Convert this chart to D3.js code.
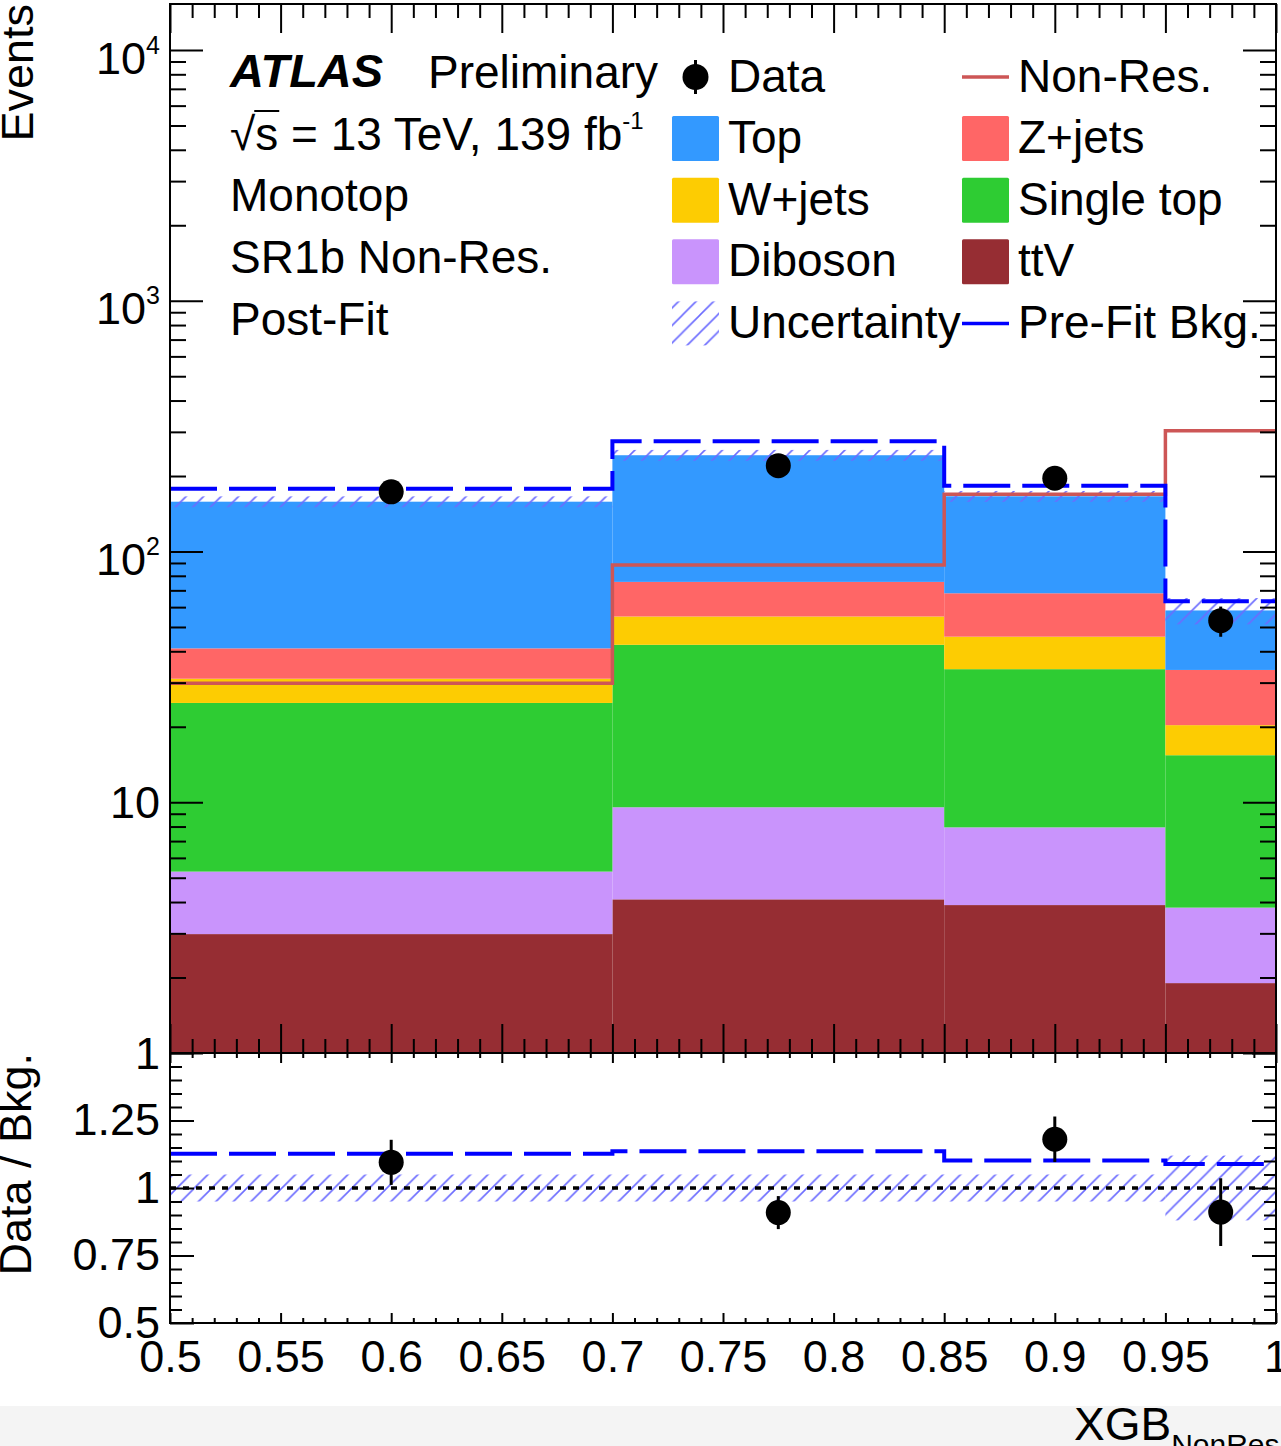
<!DOCTYPE html>
<html>
<head>
<meta charset="utf-8">
<script src="https://cdn.jsdelivr.net/npm/d3@7"></script>
<style>
  html, body { margin: 0; padding: 0; background: #fff; }
  svg { display: block; font-family: "Liberation Sans", Arial, Helvetica, sans-serif; }
</style>
</head>
<body>
<svg id="chart" width="1281" height="1446"></svg>
<script>
// ---- Binning of XGB_NonRes ----
const binEdges = [0.5, 0.7, 0.85, 0.95, 1.0];
const binCenters = [0.6, 0.775, 0.9, 0.975];

// ---- Post-fit background yields per bin (stack order: bottom to top) ----
const ttV       = [2.98, 4.10, 3.89, 1.90];
const diboson   = [2.31, 5.45, 4.05, 1.90];
const singleTop = [19.6, 32.9, 26.0, 11.6];
const wJets     = [6.2, 12.6, 11.8, 4.9];
const zJets     = [10.0, 20.6, 22.4, 13.4];
const topBkg    = [116.9, 166.4, 97.9, 24.5];

// ---- Other histograms ----
const preFitBkg  = [178, 275, 183, 63.4];
const signalNonRes = [29.8, 88.3, 169, 303];
const dataCounts = [173, 220, 196, 53];
const dataErrors = [13.2, 14.8, 14.0, 7.3];
const bkgUncertaintyRel = [0.05, 0.05, 0.05, 0.12];

// ---- Axis tick labels ----
const xTickLabels = ["0.5", "0.55", "0.6", "0.65", "0.7", "0.75", "0.8", "0.85", "0.9", "0.95", "1"];
const yMainDecades = [1, 10, 100, 1000, 10000];
const yMainLabels = ["1", "10", "10^2", "10^3", "10^4"];
const yRatioTicks = [0.5, 0.75, 1, 1.25];
const yRatioLabels = ["0.5", "0.75", "1", "1.25"];

const processKeys = ["ttV", "Diboson", "Single top", "W+jets", "Z+jets", "Top"];
const processSeries = [ttV, diboson, singleTop, wJets, zJets, topBkg];

// ---- Styles ----
const colors = {
  "Top": "#3399ff",
  "Z+jets": "#ff6666",
  "W+jets": "#fdcc02",
  "Single top": "#2ecc33",
  "Diboson": "#c994fc",
  "ttV": "#962d33",
  signal: "#cd5656",
  prefit: "#0000ff",
  hatch: "#6b6bff"
};
const FONT = 45;       // tick labels and axis titles
const TXT = 46;        // legend and info text

// ---- Layout ----
const L = 170, R = 1276, T = 4, MB = 1053, RB = 1323;

const svg = d3.select("#chart");

// light strip at the bottom edge
svg.append("rect").attr("x", 0).attr("y", 1406).attr("width", 1281).attr("height", 40).attr("fill", "#f4f4f4");

const defs = svg.append("defs");
const hp = defs.append("pattern")
  .attr("id", "hatch").attr("patternUnits", "userSpaceOnUse")
  .attr("width", 17.5).attr("height", 17.5);
hp.append("path")
  .attr("d", "M0,17.5 L17.5,0 M-2,2 L2,-2 M15.5,19.5 L19.5,15.5")
  .attr("stroke", colors.hatch).attr("stroke-width", 1.6);

defs.append("clipPath").attr("id", "clipMain")
  .append("rect").attr("x", L).attr("y", T).attr("width", R - L).attr("height", MB - T);
defs.append("clipPath").attr("id", "clipRatio")
  .append("rect").attr("x", L).attr("y", MB).attr("width", R - L).attr("height", RB - MB);

// ---- Scales ----
const x = d3.scaleLinear().domain([0.5, 1.0]).range([L, R]);
const yTopValue = Math.pow(10, 4 + 46 / 250.75);
const y = d3.scaleLog().domain([1, yTopValue]).range([MB, T]);
const yr = d3.scaleLinear().domain([0.5, 1.5]).range([RB, MB]);

// ---- Stacked backgrounds ----
const table = binCenters.map((c, i) => {
  const row = { bin: i };
  processKeys.forEach((k, j) => { row[k] = processSeries[j][i]; });
  return row;
});
const stacked = d3.stack().keys(processKeys)(table);
const totals = table.map(r => d3.sum(processKeys, k => r[k]));

const gMain = svg.append("g").attr("clip-path", "url(#clipMain)");
stacked.forEach(layer => {
  gMain.append("g").selectAll("rect").data(layer).join("rect")
    .attr("x", (d, i) => x(binEdges[i]))
    .attr("width", (d, i) => x(binEdges[i + 1]) - x(binEdges[i]))
    .attr("y", d => y(d[1]))
    .attr("height", d => y(Math.max(d[0], 1)) - y(d[1]))
    .attr("fill", colors[layer.key]);
});

// uncertainty band on the total
gMain.append("g").selectAll("rect").data(totals).join("rect")
  .attr("x", (d, i) => x(binEdges[i]))
  .attr("width", (d, i) => x(binEdges[i + 1]) - x(binEdges[i]))
  .attr("y", (d, i) => y(d * (1 + bkgUncertaintyRel[i])))
  .attr("height", (d, i) => y(d * (1 - bkgUncertaintyRel[i])) - y(d * (1 + bkgUncertaintyRel[i])))
  .attr("fill", "url(#hatch)");

// step outline helper
function stepPoints(vals, ys) {
  const pts = [];
  vals.forEach((v, i) => {
    pts.push([x(binEdges[i]), ys(v)]);
    pts.push([x(binEdges[i + 1]), ys(v)]);
  });
  return pts;
}
const line = d3.line();

// signal
gMain.append("path").attr("d", line(stepPoints(signalNonRes, y)))
  .attr("fill", "none").attr("stroke", colors.signal).attr("stroke-width", 3.5);
// pre-fit background
gMain.append("path").attr("d", line(stepPoints(preFitBkg, y)))
  .attr("fill", "none").attr("stroke", colors.prefit).attr("stroke-width", 4)
  .attr("stroke-dasharray", "47 12");

// data
const gData = gMain.append("g");
dataCounts.forEach((v, i) => {
  gData.append("line")
    .attr("x1", x(binCenters[i])).attr("x2", x(binCenters[i]))
    .attr("y1", y(v + dataErrors[i])).attr("y2", y(v - dataErrors[i]))
    .attr("stroke", "#000").attr("stroke-width", 3);
  gData.append("circle").attr("cx", x(binCenters[i])).attr("cy", y(v)).attr("r", 12.5).attr("fill", "#000");
});

// ---- Ratio panel ----
const gRatio = svg.append("g").attr("clip-path", "url(#clipRatio)");
gRatio.append("g").selectAll("rect").data(bkgUncertaintyRel).join("rect")
  .attr("x", (d, i) => x(binEdges[i]))
  .attr("width", (d, i) => x(binEdges[i + 1]) - x(binEdges[i]))
  .attr("y", d => yr(1 + d))
  .attr("height", d => yr(1 - d) - yr(1 + d))
  .attr("fill", "url(#hatch)");
gRatio.append("line").attr("x1", L).attr("x2", R).attr("y1", yr(1)).attr("y2", yr(1))
  .attr("stroke", "#000").attr("stroke-width", 3.5).attr("stroke-dasharray", "6 7");
const preFitRatio = preFitBkg.map((v, i) => v / totals[i]);
gRatio.append("path").attr("d", line(stepPoints(preFitRatio, yr)))
  .attr("fill", "none").attr("stroke", colors.prefit).attr("stroke-width", 4)
  .attr("stroke-dasharray", "47 12");
dataCounts.forEach((v, i) => {
  const r = v / totals[i], e = dataErrors[i] / totals[i];
  gRatio.append("line")
    .attr("x1", x(binCenters[i])).attr("x2", x(binCenters[i]))
    .attr("y1", yr(r + e)).attr("y2", yr(r - e))
    .attr("stroke", "#000").attr("stroke-width", 3);
  gRatio.append("circle").attr("cx", x(binCenters[i])).attr("cy", yr(r)).attr("r", 12.5).attr("fill", "#000");
});

// ---- Axes ----
const xMajor = d3.range(0, 11).map(i => 0.5 + i * 0.05);
const xMinor = d3.range(0, 51).map(i => 0.5 + i * 0.01).filter((v, i) => i % 5 !== 0);
const yMinor = [];
[1, 10, 100, 1000, 10000].forEach(d => { for (let k = 2; k <= 9; k++) if (d * k <= yTopValue) yMinor.push(d * k); });
const yrMinor = d3.range(0, 21).map(i => 0.5 + i * 0.05).filter((v, i) => i % 5 !== 0);

function styleAxis(g) {
  g.select(".domain").remove();
  g.selectAll(".tick line").attr("stroke", "#000").attr("stroke-width", 2);
  g.selectAll("text").attr("font-size", FONT).attr("fill", "#000")
    .attr("font-family", "'Liberation Sans', Arial, Helvetica, sans-serif");
}
function addAxis(axis, tx, ty) {
  const g = svg.append("g").attr("transform", `translate(${tx},${ty})`).call(axis);
  styleAxis(g);
  return g;
}

// main panel x ticks (bottom edge, top edge)
addAxis(d3.axisTop(x).tickValues(xMajor).tickSize(29).tickFormat(""), 0, MB);
addAxis(d3.axisTop(x).tickValues(xMinor).tickSize(14).tickFormat(""), 0, MB);
addAxis(d3.axisBottom(x).tickValues(xMajor).tickSize(29).tickFormat(""), 0, T);
addAxis(d3.axisBottom(x).tickValues(xMinor).tickSize(14).tickFormat(""), 0, T);

// main panel y ticks
const yLab = addAxis(d3.axisLeft(y).tickValues(yMainDecades).tickSizeInner(-33).tickSizeOuter(0)
  .tickPadding(10).tickFormat((d, i) => yMainLabels[i]), L, 0);
yLab.selectAll(".tick text").each(function (d, i) {
  const lab = yMainLabels[i];
  const t = d3.select(this);
  if (lab.includes("^")) {
    const [base, exp] = lab.split("^");
    t.text(null).attr("dy", null).attr("y", 23);
    t.append("tspan").text(base);
    t.append("tspan").text(exp).attr("font-size", 25).attr("dy", -20);
  } else {
    t.attr("dy", "0.34em");
  }
});
addAxis(d3.axisLeft(y).tickValues(yMinor).tickSizeInner(-16).tickSizeOuter(0).tickFormat(""), L, 0);
addAxis(d3.axisLeft(y).tickValues(yMainDecades).tickSize(33).tickFormat(""), R, 0);
addAxis(d3.axisLeft(y).tickValues(yMinor).tickSize(16).tickFormat(""), R, 0);

// ratio panel ticks
addAxis(d3.axisBottom(x).tickValues(xMajor).tickSizeInner(-10).tickSizeOuter(0).tickPadding(17)
  .tickFormat((d, i) => xTickLabels[i]), 0, RB);
addAxis(d3.axisTop(x).tickValues(xMinor).tickSize(5).tickFormat(""), 0, RB);
addAxis(d3.axisBottom(x).tickValues(xMajor).tickSize(10).tickFormat(""), 0, MB);
addAxis(d3.axisBottom(x).tickValues(xMinor).tickSize(5).tickFormat(""), 0, MB);
addAxis(d3.axisLeft(yr).tickValues(yRatioTicks).tickSizeInner(-24).tickSizeOuter(0).tickPadding(10)
  .tickFormat((d, i) => yRatioLabels[i]), L, 0);
addAxis(d3.axisLeft(yr).tickValues([1.5]).tickSizeInner(-24).tickSizeOuter(0).tickFormat(""), L, 0);
addAxis(d3.axisLeft(yr).tickValues(yrMinor).tickSizeInner(-12).tickSizeOuter(0).tickFormat(""), L, 0);
addAxis(d3.axisLeft(yr).tickValues(yRatioTicks.concat([1.5])).tickSize(24).tickFormat(""), R, 0);
addAxis(d3.axisLeft(yr).tickValues(yrMinor).tickSize(12).tickFormat(""), R, 0);

// frames
svg.append("rect").attr("x", L).attr("y", T).attr("width", R - L).attr("height", MB - T)
  .attr("fill", "none").attr("stroke", "#000").attr("stroke-width", 2);
svg.append("rect").attr("x", L).attr("y", MB).attr("width", R - L).attr("height", RB - MB)
  .attr("fill", "none").attr("stroke", "#000").attr("stroke-width", 2);

// axis titles
svg.append("text").attr("transform", `translate(33,${T}) rotate(-90)`)
  .attr("text-anchor", "end").attr("font-size", FONT).text("Events");
svg.append("text").attr("transform", `translate(31,${MB}) rotate(-90)`)
  .attr("text-anchor", "end").attr("font-size", FONT).text("Data / Bkg.");
const xt = svg.append("text").attr("x", 1074).attr("y", 1440).attr("font-size", 46);
xt.append("tspan").text("XGB");
xt.append("tspan").text("NonRes").attr("font-size", 30).attr("dy", 15);

// ---- Labels ----
svg.append("text").attr("x", 230).attr("y", 87).attr("font-size", TXT + 1)
  .attr("font-weight", "bold").attr("font-style", "italic").text("ATLAS");
svg.append("text").attr("x", 428).attr("y", 88).attr("font-size", TXT).text("Preliminary");
const lumi = svg.append("text").attr("x", 230).attr("y", 149.5).attr("font-size", TXT);
lumi.append("tspan").text("\u221A");
lumi.append("tspan").text("s = 13 TeV, 139 fb");
lumi.append("tspan").text("-1").attr("font-size", 24).attr("dy", -21);
{
  const n = lumi.node();
  const x0 = n.getStartPositionOfChar(1).x, x1 = n.getEndPositionOfChar(1).x;
  svg.append("line").attr("x1", x0 - 1).attr("x2", x1 + 1).attr("y1", 111).attr("y2", 111)
    .attr("stroke", "#000").attr("stroke-width", 2);
}
const infoLines = ["Monotop", "SR1b Non-Res.", "Post-Fit"];
infoLines.forEach((s, i) => {
  svg.append("text").attr("x", 230).attr("y", 211 + i * 62).attr("font-size", TXT).text(s);
});

// ---- Legend ----
const legendCol1 = [
  { label: "Data", kind: "data" },
  { label: "Top", kind: "box" },
  { label: "W+jets", kind: "box" },
  { label: "Diboson", kind: "box" },
  { label: "Uncertainty", kind: "hatch" }
];
const legendCol2 = [
  { label: "Non-Res.", kind: "line", color: colors.signal },
  { label: "Z+jets", kind: "box" },
  { label: "Single top", kind: "box" },
  { label: "ttV", kind: "box" },
  { label: "Pre-Fit Bkg.", kind: "line", color: colors.prefit }
];
function drawLegend(entries, x0) {
  entries.forEach((e, i) => {
    const cy = 77 + i * 61.6;
    const g = svg.append("g");
    if (e.kind === "box") {
      g.append("rect").attr("x", x0).attr("y", cy - 22.5).attr("width", 47).attr("height", 45)
        .attr("rx", 1.5).attr("fill", colors[e.label]);
    } else if (e.kind === "hatch") {
      g.append("rect").attr("x", x0).attr("y", cy - 22).attr("width", 47).attr("height", 44)
        .attr("fill", "url(#hatch)");
    } else if (e.kind === "line") {
      g.append("line").attr("x1", x0).attr("x2", x0 + 47).attr("y1", cy).attr("y2", cy)
        .attr("stroke", e.color).attr("stroke-width", 3.5);
    } else if (e.kind === "data") {
      g.append("line").attr("x1", x0 + 23.5).attr("x2", x0 + 23.5).attr("y1", cy - 17).attr("y2", cy + 17)
        .attr("stroke", "#000").attr("stroke-width", 3);
      g.append("circle").attr("cx", x0 + 23.5).attr("cy", cy).attr("r", 13).attr("fill", "#000");
    }
    g.append("text").attr("x", x0 + 56).attr("y", cy + 14.5).attr("font-size", TXT).text(e.label);
  });
}
drawLegend(legendCol1, 672);
drawLegend(legendCol2, 962);
</script>
</body>
</html>
